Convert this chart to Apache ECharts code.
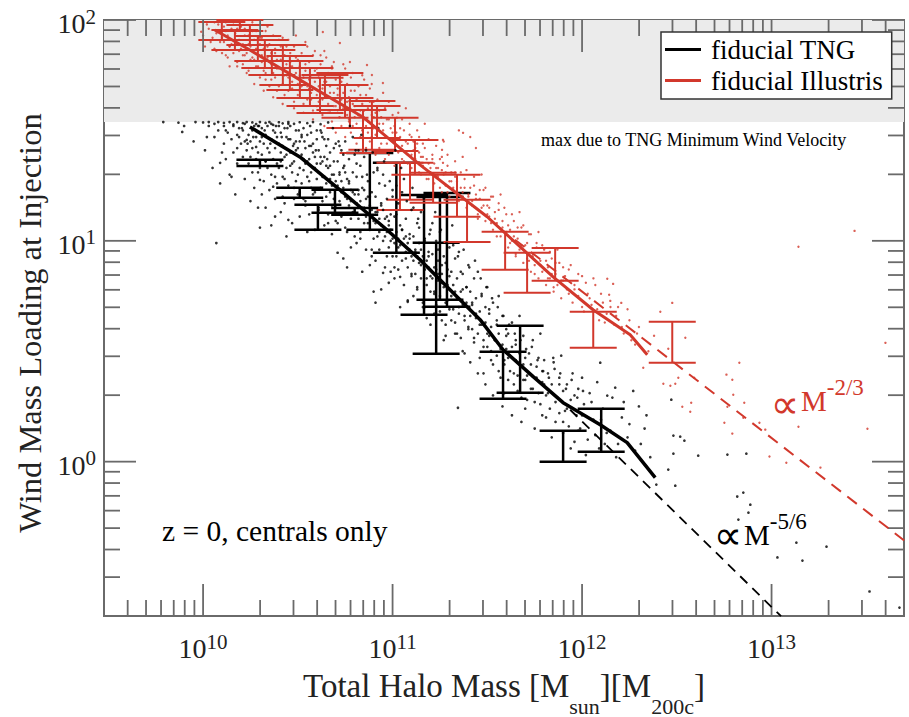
<!DOCTYPE html>
<html>
<head>
<meta charset="utf-8">
<script src="https://cdn.jsdelivr.net/npm/echarts@6/dist/echarts.min.js"></script>
<style>html,body{margin:0;padding:0;background:#fff;overflow:hidden;}#c{width:909px;height:717px;}</style>
</head>
<body>
<div id="c"></div>
<script>
const tngMedianLog = [[10.247,1.516],[10.511,1.380],[10.722,1.231],[10.970,1.050],[11.145,0.914],[11.319,0.765],[11.462,0.643],[11.583,0.507],[11.742,0.385],[11.900,0.267],[12.096,0.167],[12.238,0.086],[12.386,-0.072]];
const tngSlopeLog = [[11.937,0.235],[13.05,-0.70]];
const illMedianLog = [[10.062,1.955],[10.247,1.864],[10.511,1.729],[10.843,1.561],[11.145,1.344],[11.499,1.109],[11.847,0.837],[12.058,0.688],[12.254,0.575],[12.344,0.484]];
const illSlopeLog = [[11.646,1.005],[13.70,-0.357]];
const windCap = 34.5; // eta maximum due to TNG minimum wind velocity

// error bars: [log10 M, log10 eta low, log10 eta high]
const tngErrLog = [[10.30,1.339,1.367],[10.51,1.195,1.240],[10.606,1.050,1.163],[10.696,1.127,1.231],[10.80,1.118,1.149],[10.88,1.050,1.398],[11.02,0.946,1.353],[11.166,0.665,1.208],[11.23,0.489,0.991],[11.25,0.733,1.199],[11.287,0.701,1.217],[11.583,0.285,0.498],[11.673,0.312,0.615],[11.90,0.000,0.140],[12.101,0.045,0.240]];
const illErrLog = [[10.099,1.9095,1.991],[10.194,1.950,2.000],[10.168,1.864,1.955],[10.247,1.887,1.977],[10.289,1.814,1.928],[10.326,1.783,1.9095],[10.363,1.751,1.864],[10.421,1.706,1.887],[10.458,1.683,1.837],[10.511,1.647,1.814],[10.564,1.611,1.783],[10.617,1.579,1.738],[10.643,1.647,1.751],[10.722,1.593,1.760],[10.749,1.557,1.706],[10.775,1.511,1.647],[10.844,1.398,1.593],[10.891,1.412,1.633],[10.918,1.466,1.611],[11.013,1.407,1.557],[11.039,1.140,1.353],[11.092,1.1855,1.353],[11.118,1.299,1.457],[11.214,1.172,1.308],[11.340,1.109,1.299],[11.393,0.995,1.1855],[11.594,0.869,1.041],[11.710,0.765,0.946],[11.858,0.819,0.968],[12.059,0.516,0.679],[12.476,0.448,0.633]];

// individual halos (TNG)
const tngHalosLog = [
[9.79,1.538],[9.87,1.535],[9.90,1.52],[9.96,1.538],[10.00,1.536],[10.03,1.538],[10.06,1.530],[10.08,1.538],[10.11,1.534],[10.14,1.538],[10.16,1.527],[10.18,1.538],[10.21,1.533],[10.23,1.538],[10.26,1.536],[10.28,1.529],[10.30,1.538],[10.33,1.534],[10.35,1.538],[10.37,1.525],[10.40,1.537],[10.42,1.532],[10.45,1.538],[10.48,1.530],[10.51,1.537],[10.55,1.533],[10.58,1.538],[10.62,1.528],[10.66,1.536],
[9.89,1.493],[9.95,1.45],[10.02,1.47],[10.07,0.99],[10.09,1.353],[10.10,1.40],[10.12,1.50],[10.15,1.29],[10.16,1.40],[10.18,1.48],[10.22,1.45],[10.23,1.457],[10.25,1.38],[10.26,1.50],[10.28,1.425],[10.29,1.31],[10.29,1.15],[10.30,1.06],[10.30,1.276],[10.31,1.47],[10.33,1.36],[10.34,1.42],[10.36,1.07],[10.37,1.245],[10.38,1.19],[10.38,1.49],[10.40,1.33],[10.41,1.40],[10.42,1.20],[10.43,1.28],[10.44,1.02],[10.45,1.095],[10.46,1.46],[10.47,1.35],[10.48,1.24],[10.49,1.41],[10.50,1.30],[10.51,1.11],[10.52,1.48],[10.53,1.37],[10.54,1.18],[10.55,1.04],[10.56,1.27],[10.57,1.43],[10.58,1.33],[10.59,1.22],[10.60,1.50],[10.61,1.14],[10.62,1.38],[10.63,1.29],[10.64,1.46],[10.65,1.20],[10.66,1.08],[10.67,1.34],[10.68,1.25],[10.69,1.42],[10.70,1.16],[10.71,0.946],[10.72,1.31],[10.73,1.22],[10.74,1.39],[10.75,1.06],[10.76,0.88],[10.77,1.27],[10.78,1.18],[10.79,1.47],[10.80,1.12],[10.81,1.35],[10.82,1.23],[10.83,1.01],[10.84,1.29],[10.85,1.15],[10.86,1.41],[10.87,1.08],[10.88,1.20],[10.89,0.96],[10.90,0.77],[10.91,0.72],[10.91,1.13],[10.92,1.32],[10.93,1.04],[10.94,1.17],[10.95,0.855],[10.96,1.25],[10.97,0.93],[10.98,1.09],[10.99,1.00],[11.00,1.20],[11.01,0.88],[11.02,1.12],[11.03,0.97],[11.04,0.837],[11.05,1.05],[11.06,1.28],[11.07,0.92],[11.08,0.724],[11.09,1.01],[11.10,0.84],[11.11,1.15],[11.12,0.95],[11.13,0.78],[11.14,1.06],[11.15,0.89],[11.16,0.70],[11.17,1.00],[11.18,0.83],[11.19,0.93],[11.20,0.62],[11.21,1.08],[11.22,0.76],[11.23,0.87],[11.24,0.96],[11.25,0.68],[11.26,0.81],[11.27,0.55],[11.28,0.90],[11.29,0.73],[11.30,0.84],[11.31,0.64],[11.32,0.98],[11.33,0.77],[11.34,0.58],[11.345,0.244],[11.35,0.70],[11.36,0.86],[11.37,0.50],[11.38,0.66],[11.39,0.79],[11.40,0.60],[11.41,0.45],[11.42,0.72],[11.43,0.56],[11.44,0.67],[11.45,0.40],[11.46,0.62],[11.47,0.75],[11.48,0.52],[11.49,0.35],[11.50,0.58],[11.51,0.69],[11.52,0.46],[11.53,0.30],[11.54,0.55],[11.55,0.62],[11.56,0.41],[11.57,0.51],[11.58,0.25],[11.59,0.44],[11.60,0.57],[11.61,0.37],[11.62,0.48],[11.63,0.21],[11.64,0.40],[11.65,0.53],[11.66,0.32],[11.67,0.44],[11.68,0.18],[11.69,0.37],[11.70,0.47],[11.71,0.28],[11.72,0.40],[11.74,0.33],[11.75,0.15],[11.76,0.43],[11.78,0.26],[11.79,0.36],[11.81,0.20],[11.82,0.31],[11.84,0.11],[11.848,0.47],[11.86,0.27],[11.88,0.35],[11.90,0.18],[11.92,0.24],[11.94,0.06],[11.96,0.30],[11.98,0.14],[12.00,0.21],[12.02,0.03],[12.05,0.27],[12.07,0.12],[12.096,0.448],[12.10,0.19],[12.12,0.08],[12.133,0.299],[12.15,0.14],[12.175,0.335],[12.18,0.02],[12.21,0.20],[12.24,0.11],[12.28,0.05],[12.30,0.25],[12.33,0.15],[12.36,0.02],[12.392,-0.104],[12.455,-0.036],[12.471,0.2805],[12.482,0.118],[12.482,0.036],[12.492,-0.109],[12.518,0.113],[12.54,0.095],[12.613,0.027],[12.767,0.032],[12.819,-0.158],[12.825,-0.2625],[12.851,-0.140],[12.867,0.036],[12.878,-0.231],[12.888,-0.195],[13.031,-0.434],[13.131,-0.367],[13.163,-0.448],[13.29,-0.385],[13.517,-0.588],[13.675,-0.661],
[10.205,1.51],[10.235,1.44],[10.265,1.47],[10.295,1.52],[10.325,1.50],[10.355,1.44],[10.385,1.52],[10.415,1.47],[10.445,1.51],[10.475,1.43],[10.505,1.50],[10.535,1.45],[10.565,1.52],[10.595,1.41],[10.625,1.49],[10.655,1.37],[10.685,1.51],[10.715,1.45],[10.745,1.34],[10.775,1.52],[10.805,1.41],[10.835,1.48],[10.865,1.30],[10.895,1.40],[10.925,1.51],[10.955,1.36],[10.985,1.27],[11.015,1.41],[11.045,1.33],[11.075,1.18],[11.105,1.24],[11.135,1.10],[11.165,1.19],[11.195,1.03],[11.225,1.13],[11.255,1.05],[11.285,0.99],[11.315,1.07],[11.345,0.93],[11.375,0.96],[11.405,0.88],[11.435,0.91],[11.465,0.83],[11.495,0.79],[11.525,0.74],[11.555,0.70],[11.585,0.66],[11.615,0.62],[11.645,0.58],[11.675,0.55],[11.705,0.51],[11.735,0.52],[11.765,0.46],[11.795,0.41],[11.825,0.38],[11.855,0.42],[11.885,0.40],[11.915,0.33],[11.945,0.37],[11.975,0.29],[12.005,0.32],
[10.01,1.41],[10.03,1.52],[10.05,1.33],[10.06,1.47],[10.08,1.50],[10.09,1.26],
[10.11,1.44],[10.11,1.52],[10.12,1.37],[10.13,1.49],[10.14,1.30],[10.15,1.46],[10.16,1.52],[10.17,1.21],[10.18,1.42],[10.18,1.35],[10.19,1.51],[10.19,1.47],
[10.20,1.44],[10.21,1.38],[10.21,1.50],[10.22,1.28],[10.22,1.53],[10.23,1.41],[10.24,1.35],[10.24,1.48],[10.25,1.18],[10.25,1.45],[10.26,1.31],[10.26,1.42],[10.27,1.52],[10.27,1.24],[10.28,1.37],[10.28,1.47],[10.29,1.40],[10.29,1.52],[10.30,1.33],[10.30,1.45],
[10.31,1.39],[10.31,1.51],[10.32,1.27],[10.32,1.44],[10.33,1.48],[10.33,1.15],[10.34,1.33],[10.34,1.52],[10.35,1.40],[10.35,1.23],[10.36,1.46],[10.36,1.30],[10.37,1.37],[10.37,1.50],[10.38,1.42],[10.38,1.11],[10.39,1.35],[10.39,1.47],[10.39,1.26],[10.40,1.44],[10.40,1.52],[10.31,1.21],[10.33,1.36],[10.36,1.53],[10.38,1.29],
[10.41,1.36],[10.41,1.49],[10.42,1.29],[10.42,1.43],[10.43,1.51],[10.43,1.17],[10.44,1.39],[10.44,1.33],[10.45,1.46],[10.45,1.25],[10.46,1.40],[10.46,1.52],[10.47,1.31],[10.47,1.08],[10.48,1.44],[10.48,1.36],[10.49,1.27],[10.49,1.50],[10.50,1.42],[10.50,1.21],[10.41,1.13],[10.43,1.38],[10.45,1.53],[10.46,1.34],[10.48,1.19],[10.49,1.45],[10.44,1.47],[10.47,1.40],
[10.51,1.33],[10.51,1.45],[10.52,1.26],[10.52,1.39],[10.53,1.51],[10.53,1.19],[10.54,1.35],[10.54,1.42],[10.55,1.29],[10.55,1.48],[10.56,1.12],[10.56,1.37],[10.57,1.31],[10.57,1.24],[10.58,1.44],[10.58,1.40],[10.59,1.33],[10.59,1.05],[10.60,1.28],[10.60,1.46],[10.51,1.22],[10.52,1.47],[10.54,1.16],[10.55,1.36],[10.57,1.49],[10.58,1.21],[10.59,1.38],[10.53,1.32],[10.56,1.43],[10.60,1.35],
[10.61,1.31],[10.61,1.41],[10.62,1.24],[10.62,1.35],[10.63,1.47],[10.63,1.18],[10.64,1.29],[10.64,1.38],[10.65,1.26],[10.65,1.43],[10.66,1.33],[10.66,1.12],[10.67,1.22],[10.67,1.40],[10.68,1.30],[10.68,1.03],[10.69,1.36],[10.69,1.19],[10.70,1.27],[10.70,1.44],[10.61,1.15],[10.62,1.50],[10.63,1.36],[10.64,1.07],[10.65,1.34],[10.66,1.46],[10.67,1.28],[10.68,1.16],[10.69,1.30],[10.70,1.09],
[10.71,1.25],[10.71,1.36],[10.72,1.18],[10.72,1.30],[10.73,1.41],[10.73,1.11],[10.74,1.24],[10.74,1.33],[10.75,1.20],[10.75,1.45],[10.76,1.28],[10.76,1.04],[10.77,1.16],[10.77,1.37],[10.78,1.23],[10.78,0.97],[10.79,1.31],[10.79,1.13],[10.80,1.21],[10.80,1.39],[10.71,1.08],[10.72,1.43],[10.73,1.27],[10.74,0.92],[10.75,1.31],[10.76,1.19],[10.77,1.26],[10.78,1.10],[10.79,1.22],[10.80,1.02],
[10.81,1.17],[10.81,1.29],[10.82,1.10],[10.82,1.21],[10.83,1.34],[10.83,1.04],[10.84,1.15],[10.84,1.24],[10.85,1.08],[10.85,1.38],[10.86,1.19],[10.86,0.96],[10.87,1.12],[10.87,1.27],[10.88,1.05],[10.88,0.89],[10.89,1.22],[10.89,1.14],[10.90,1.01],[10.90,1.31],[10.81,0.99],[10.82,1.41],[10.83,1.18],[10.84,0.86],[10.85,1.23],[10.86,1.11],[10.87,1.20],[10.88,1.16],[10.89,0.93],[10.90,1.09],
[10.91,1.08],[10.91,1.20],[10.92,1.02],[10.92,1.13],[10.93,1.26],[10.93,0.96],[10.94,1.07],[10.94,1.16],[10.95,1.00],[10.95,1.30],[10.96,1.10],[10.96,0.88],[10.97,1.04],[10.97,1.19],[10.98,0.97],[10.98,0.81],[10.99,1.12],[10.99,1.05],[11.00,0.93],[11.00,1.23],[10.91,0.91],[10.92,1.33],[10.93,1.10],[10.94,0.78],[10.95,1.14],[10.96,1.02],[10.97,1.11],[10.98,1.07],[10.99,0.86],[11.00,1.01],
[11.01,0.99],[11.01,1.11],[11.02,0.93],[11.02,1.04],[11.03,1.17],[11.03,0.87],[11.04,0.98],[11.04,1.07],[11.05,0.91],[11.05,1.22],[11.06,1.01],[11.06,0.80],[11.07,0.95],[11.07,1.10],[11.08,0.88],[11.08,0.73],[11.09,1.03],[11.09,0.96],[11.10,0.85],[11.10,1.14],[11.01,0.83],[11.02,1.25],[11.03,1.01],[11.04,0.70],[11.05,1.05],[11.07,1.02],[11.08,0.99],[11.10,0.93],
[11.11,0.91],[11.11,1.02],[11.12,0.85],[11.12,0.96],[11.13,1.08],[11.13,0.79],[11.14,0.90],[11.14,0.99],[11.15,0.83],[11.15,1.13],[11.16,0.93],[11.16,0.72],[11.17,0.87],[11.17,1.01],[11.18,0.80],[11.18,0.65],[11.19,0.95],[11.19,0.88],[11.20,0.77],[11.20,1.05],[11.11,0.75],[11.13,0.93],[11.15,0.96],[11.17,0.70],[11.18,0.91],[11.20,0.84],
[11.21,0.83],[11.21,0.94],[11.22,0.77],[11.22,0.88],[11.23,1.00],[11.23,0.71],[11.24,0.82],[11.24,0.91],[11.25,0.75],[11.25,1.04],[11.26,0.85],[11.26,0.64],[11.27,0.79],[11.27,0.93],[11.28,0.72],[11.28,0.57],[11.29,0.87],[11.29,0.80],[11.30,0.69],[11.30,0.97],[11.22,0.67],[11.24,0.85],[11.26,0.89],[11.28,0.62],
[11.31,0.75],[11.31,0.86],[11.32,0.69],[11.32,0.80],[11.33,0.92],[11.33,0.63],[11.34,0.74],[11.34,0.83],[11.35,0.67],[11.35,0.95],[11.36,0.77],[11.36,0.56],[11.37,0.71],[11.37,0.85],[11.38,0.64],[11.38,0.49],[11.39,0.79],[11.39,0.72],[11.40,0.61],[11.40,0.89],[11.33,0.58],[11.37,0.78],
[11.41,0.66],[11.41,0.77],[11.42,0.60],[11.42,0.71],[11.43,0.83],[11.43,0.54],[11.44,0.65],[11.44,0.74],[11.45,0.58],[11.45,0.86],[11.46,0.68],[11.46,0.47],[11.47,0.62],[11.47,0.76],[11.48,0.55],[11.48,0.40],[11.49,0.70],[11.49,0.63],[11.50,0.52],[11.50,0.79],
[11.51,0.57],[11.51,0.67],[11.52,0.50],[11.52,0.61],[11.53,0.72],[11.53,0.44],[11.54,0.55],[11.55,0.64],[11.55,0.48],[11.56,0.75],[11.56,0.58],[11.57,0.38],[11.58,0.53],[11.58,0.66],[11.59,0.46],[11.59,0.31],[11.60,0.60],[11.60,0.51],
[11.61,0.47],[11.61,0.58],[11.62,0.41],[11.63,0.52],[11.63,0.63],[11.64,0.35],[11.65,0.46],[11.65,0.55],[11.66,0.39],[11.67,0.66],[11.67,0.49],[11.68,0.29],[11.69,0.44],[11.69,0.57],[11.70,0.37],[11.70,0.24],
[11.71,0.39],[11.72,0.49],[11.73,0.33],[11.73,0.44],[11.74,0.55],[11.75,0.27],[11.76,0.38],[11.77,0.47],[11.77,0.31],[11.78,0.58],[11.79,0.41],[11.79,0.21],[11.80,0.35],[11.80,0.46],
[11.81,0.30],[11.82,0.40],[11.83,0.24],[11.84,0.35],[11.85,0.45],[11.86,0.18],[11.87,0.29],[11.88,0.38],[11.88,0.22],[11.89,0.48],[11.90,0.32],[11.90,0.13],
[11.91,0.23],[11.92,0.35],[11.93,0.16],[11.94,0.28],[11.95,0.40],[11.96,0.09],[11.97,0.21],[11.98,0.33],[11.99,0.15],[12.00,0.38],
[12.01,0.26],[12.03,0.10],[12.04,0.31],[12.06,0.19],[12.08,0.36],[12.09,0.06],[12.11,0.24],[12.13,0.13],[12.16,0.29],[12.19,0.08],
[12.22,0.27],[12.25,0.17],[12.27,0.32],[12.31,0.08],[12.34,0.21]
];
// individual halos (Illustris)
const illHalosLog = [
[9.99,1.947],[10.02,1.98],[10.04,1.90],[10.06,1.99],[10.07,1.86],[10.09,1.95],[10.10,1.92],[10.12,1.99],[10.13,1.83],[10.14,1.88],[10.15,1.96],[10.17,1.91],[10.18,1.79],[10.19,1.86],[10.20,1.97],[10.21,1.84],[10.22,1.93],[10.23,1.76],[10.24,1.89],[10.25,1.82],[10.26,1.95],[10.27,1.71],[10.28,1.87],[10.29,1.79],[10.30,1.92],[10.31,1.84],[10.32,1.68],[10.33,1.76],[10.34,1.88],[10.35,1.81],[10.36,1.73],[10.37,1.65],[10.38,1.85],[10.39,1.78],[10.40,1.70],[10.41,1.82],[10.42,1.62],[10.43,1.75],[10.44,1.88],[10.45,1.68],[10.46,1.79],[10.47,1.72],[10.48,1.60],[10.49,1.83],[10.50,1.66],[10.51,1.75],[10.52,1.70],[10.53,1.58],[10.54,1.80],[10.55,1.64],[10.56,1.73],[10.57,1.67],[10.58,1.55],[10.59,1.77],[10.60,1.61],[10.61,1.70],[10.62,1.84],[10.63,1.64],[10.64,1.52],[10.65,1.72],[10.66,1.58],[10.67,1.67],[10.68,1.78],[10.69,1.61],[10.70,1.49],[10.71,1.66],[10.72,1.56],[10.73,1.72],[10.74,1.60],[10.75,1.47],[10.76,1.63],[10.77,1.55],[10.78,1.68],[10.79,1.52],[10.80,1.61],[10.81,1.44],[10.82,1.57],[10.83,1.66],[10.84,1.50],[10.85,1.59],[10.86,1.42],[10.87,1.54],[10.88,1.63],[10.89,1.47],[10.90,1.56],[10.91,1.39],[10.92,1.51],[10.93,1.59],[10.94,1.44],[10.95,1.53],[10.96,1.37],[10.97,1.47],[10.98,1.55],[10.99,1.41],[11.00,1.49],[11.01,1.34],
[11.02,1.46],[11.03,1.40],[11.04,1.51],[11.05,1.43],[11.06,1.36],[11.07,1.45],[11.08,1.39],[11.09,1.48],[11.10,1.33],[11.11,1.41],[11.12,1.37],[11.13,1.44],[11.14,1.31],[11.15,1.38],[11.16,1.34],[11.17,1.42],[11.18,1.28],[11.19,1.35],[11.20,1.31],[11.21,1.39],[11.22,1.26],[11.23,1.33],[11.24,1.29],[11.25,1.37],[11.26,1.22],[11.27,1.30],[11.28,1.25],[11.29,1.34],[11.30,1.20],[11.31,1.27],[11.32,1.23],[11.33,1.31],[11.34,1.17],[11.35,1.50],[11.36,1.24],[11.37,1.20],[11.38,1.28],[11.39,1.15],[11.40,1.21],[11.41,1.47],[11.42,1.18],[11.43,1.25],[11.44,1.42],[11.45,1.12],[11.46,1.19],[11.47,1.15],[11.48,1.23],[11.49,1.09],[11.50,1.16],[11.51,1.11],[11.52,1.20],[11.53,1.05],[11.54,1.13],[11.55,1.08],[11.56,1.17],[11.57,1.02],[11.58,1.09],[11.59,1.04],[11.60,1.12],[11.61,0.97],[11.62,1.05],[11.63,1.00],[11.64,1.09],[11.65,0.93],[11.66,1.01],[11.67,0.96],[11.68,1.06],[11.69,0.90],[11.70,0.98],[11.71,0.92],[11.72,1.03],[11.73,0.86],[11.74,0.94],[11.75,0.89],[11.76,0.99],[11.77,0.83],[11.78,0.91],[11.79,0.86],[11.80,0.96],[11.81,0.80],[11.82,0.88],[11.83,0.83],[11.84,0.92],[11.85,0.77],[11.86,0.85],[11.87,0.80],[11.88,0.90],[11.89,0.74],[11.90,0.82],[11.92,0.78],[11.93,0.87],[11.95,0.72],[11.96,0.80],[11.98,0.75],[12.00,0.84],[12.01,0.68],[12.03,0.76],[12.05,0.71],[12.07,0.80],[12.09,0.64],[12.11,0.72],[12.13,0.67],[12.133,0.828],[12.143,0.756],[12.149,0.728],[12.164,0.805],[12.17,0.62],[12.19,0.70],[12.207,0.719],[12.22,0.58],[12.25,0.64],[12.28,0.53],[12.30,0.61],[12.323,0.425],[12.35,0.50],[12.38,0.57],[12.413,0.679],[12.429,0.353],[12.455,0.511],[12.466,0.344],[12.476,0.719],[12.492,0.353],[12.508,0.380],[12.529,0.249],[12.545,0.561],[12.571,0.226],[12.576,0.267],[12.592,0.380],[12.751,0.176],[12.762,0.394],[12.767,0.249],[12.793,0.371],[12.793,0.127],[12.798,0.303],[12.83,0.448],[12.851,0.199],[12.856,0.267],[12.936,0.176],[12.967,0.145],[12.989,0.023],[13.078,-0.005],[13.142,0.158],[13.142,0.973],[13.258,-0.027],[13.438,1.045],[13.506,0.149],[13.601,0.538],
[11.372,1.489],[11.266,1.457],[11.261,1.412],[11.266,1.353],[11.023,1.557],[10.949,1.715],[10.891,1.751],[10.775,1.810],[10.722,1.896],[10.632,1.946],[10.865,1.796],
[10.00,1.93],[10.01,1.88],[10.03,1.96],[10.05,1.92],[10.06,1.87],[10.08,1.98],[10.09,1.90],[10.10,1.85],[10.02,1.99],[10.07,1.94],
[10.11,1.90],[10.11,1.97],[10.12,1.84],[10.13,1.93],[10.14,1.79],[10.15,1.89],[10.16,1.99],[10.16,1.85],[10.17,1.94],[10.18,1.81],[10.19,1.91],[10.20,1.87],[10.12,1.95],[10.14,1.88],[10.18,1.96],
[10.21,1.89],[10.21,1.80],[10.22,1.96],[10.23,1.85],[10.24,1.93],[10.24,1.77],[10.25,1.88],[10.26,1.83],[10.26,1.99],[10.27,1.91],[10.28,1.79],[10.28,1.95],[10.29,1.86],[10.30,1.74],[10.30,1.89],[10.22,1.84],[10.25,1.95],[10.27,1.82],[10.29,1.92],
[10.31,1.81],[10.31,1.92],[10.32,1.87],[10.33,1.73],[10.33,1.95],[10.34,1.83],[10.35,1.89],[10.35,1.70],[10.36,1.80],[10.37,1.93],[10.37,1.76],[10.38,1.87],[10.39,1.82],[10.39,1.68],[10.40,1.91],[10.40,1.78],[10.32,1.77],[10.34,1.97],[10.36,1.85],[10.38,1.74],
[10.41,1.78],[10.41,1.88],[10.42,1.71],[10.43,1.84],[10.43,1.66],[10.44,1.80],[10.45,1.91],[10.45,1.74],[10.46,1.85],[10.47,1.69],[10.47,1.79],[10.48,1.88],[10.48,1.63],[10.49,1.76],[10.50,1.82],[10.50,1.71],[10.42,1.92],[10.44,1.75],[10.46,1.81],[10.49,1.93],
[10.51,1.79],[10.51,1.68],[10.52,1.85],[10.53,1.74],[10.53,1.62],[10.54,1.77],[10.55,1.88],[10.55,1.70],[10.56,1.81],[10.57,1.64],[10.57,1.75],[10.58,1.84],[10.58,1.59],[10.59,1.72],[10.60,1.78],[10.60,1.66],[10.52,1.72],[10.54,1.90],[10.56,1.69],[10.59,1.86],
[10.61,1.74],[10.61,1.63],[10.62,1.80],[10.63,1.69],[10.63,1.57],[10.64,1.72],[10.65,1.83],[10.65,1.65],[10.66,1.76],[10.67,1.59],[10.67,1.70],[10.68,1.79],[10.68,1.54],[10.69,1.67],[10.70,1.73],[10.70,1.61],[10.62,1.67],[10.64,1.86],[10.66,1.62],[10.69,1.81],
[10.71,1.69],[10.71,1.58],[10.72,1.75],[10.73,1.64],[10.73,1.52],[10.74,1.67],[10.75,1.78],[10.75,1.60],[10.76,1.71],[10.77,1.54],[10.77,1.65],[10.78,1.74],[10.78,1.49],[10.79,1.62],[10.80,1.68],[10.80,1.56],[10.72,1.62],[10.74,1.80],[10.76,1.57],[10.79,1.76],
[10.81,1.64],[10.81,1.53],[10.82,1.70],[10.83,1.59],[10.83,1.47],[10.84,1.62],[10.85,1.73],[10.85,1.55],[10.86,1.66],[10.87,1.49],[10.87,1.60],[10.88,1.69],[10.88,1.45],[10.89,1.57],[10.90,1.63],[10.90,1.51],[10.82,1.57],[10.84,1.75],[10.86,1.52],[10.89,1.71],
[10.91,1.58],[10.91,1.48],[10.92,1.64],[10.93,1.53],[10.93,1.42],[10.94,1.56],[10.95,1.67],[10.95,1.50],[10.96,1.60],[10.97,1.44],[10.97,1.55],[10.98,1.63],[10.98,1.39],[10.99,1.51],[11.00,1.57],[11.00,1.46],
[11.01,1.52],[11.02,1.43],[11.03,1.58],[11.04,1.47],[11.05,1.37],[11.06,1.50],[11.07,1.60],[11.08,1.44],[11.09,1.53],[11.10,1.39],[11.02,1.49],[11.05,1.55],[11.08,1.35],[11.10,1.47],
[11.11,1.45],[11.12,1.36],[11.13,1.50],[11.14,1.40],[11.15,1.30],[11.16,1.44],[11.17,1.53],[11.18,1.37],[11.19,1.46],[11.20,1.33],[11.12,1.42],[11.16,1.38],[11.19,1.28],[11.14,1.47],
[11.21,1.37],[11.22,1.30],[11.23,1.43],[11.24,1.33],[11.25,1.24],[11.26,1.38],[11.27,1.45],[11.28,1.31],[11.29,1.39],[11.30,1.27],[11.22,1.35],[11.26,1.32],[11.29,1.22],
[11.31,1.31],[11.32,1.24],[11.33,1.36],[11.34,1.27],[11.35,1.18],[11.36,1.31],[11.37,1.38],[11.38,1.24],[11.39,1.32],[11.40,1.20],[11.33,1.29],[11.37,1.22],
[11.41,1.24],[11.42,1.16],[11.43,1.29],[11.44,1.19],[11.45,1.10],[11.46,1.23],[11.47,1.30],[11.48,1.16],[11.49,1.24],[11.50,1.12],[11.44,1.21],
[11.51,1.15],[11.52,1.08],[11.53,1.20],[11.54,1.10],[11.55,1.02],[11.56,1.14],[11.57,1.21],[11.58,1.06],[11.59,1.15],[11.60,1.04],
[11.61,1.07],[11.62,0.99],[11.63,1.12],[11.64,1.02],[11.65,0.94],[11.66,1.06],[11.67,1.13],[11.68,0.98],[11.69,1.07],[11.70,0.95],
[11.71,0.99],[11.72,0.91],[11.73,1.03],[11.74,0.93],[11.75,0.85],[11.76,0.97],[11.77,1.04],[11.78,0.89],[11.79,0.98],[11.80,0.87],
[11.81,0.91],[11.82,0.83],[11.83,0.95],[11.84,0.85],[11.85,0.79],[11.86,0.90],[11.87,0.96],[11.89,0.82],[11.90,0.88],
[11.91,0.84],[11.93,0.76],[11.94,0.89],[11.96,0.78],[11.98,0.85],[12.00,0.70],[12.02,0.81],[12.04,0.74],[12.06,0.83],[12.08,0.69],[12.10,0.76],
[12.12,0.63],[12.15,0.70],[12.18,0.66],[12.21,0.61],[12.24,0.69],[12.26,0.55],[12.29,0.58]
];

// axis ticks
const xMajorTicks = [1e10, 1e11, 1e12, 1e13];
const xMinorTicks = [4e9,5e9,6e9,7e9,8e9,9e9,2e10,3e10,4e10,5e10,6e10,7e10,8e10,9e10,2e11,3e11,4e11,5e11,6e11,7e11,8e11,9e11,2e12,3e12,4e12,5e12,6e12,7e12,8e12,9e12,2e13,3e13,4e13];
const yMajorTicks = [1, 10, 100];
const yMinorTicks = [0.3,0.4,0.5,0.6,0.7,0.8,0.9,2,3,4,5,6,7,8,9,20,30,40,50,60,70,80,90];
const xRange = [3e9, 5e13];
const yRange = [0.2, 100];

const RED = '#d2382c';
const BLACK = '#000000';
const AXIS = '#6a6a6a';
const FONT = "'Liberation Serif', 'DejaVu Serif', serif";
const SYMFONT = "'DejaVu Sans', 'DejaVu Serif', sans-serif";

const unlog = p => [Math.pow(10, p[0]), Math.pow(10, p[1])];
const unlogErr = p => [Math.pow(10, p[0]), Math.pow(10, p[1]), Math.pow(10, p[2])];

function powLabel(v) {
  const e = Math.log10(v), r = Math.round(e);
  if (Math.abs(e - r) > 1e-6) return '';
  return '{b|10}{s|' + r + '}';
}
const labelRich = {
  b: {fontSize: 28, lineHeight: 28, padding: [7, 0, 0, 0], fontFamily: FONT, color: '#222'},
  s: {fontSize: 21, lineHeight: 21, verticalAlign: 'top', fontFamily: FONT, color: '#222'}
};
function powerRich(color) {
  return {
    a: {fontSize: 29, lineHeight: 39, padding: [10, 0, 0, 0], fontFamily: FONT, fill: color, verticalAlign: 'top'},
    s: {fontSize: 23, lineHeight: 23, verticalAlign: 'top', fontFamily: FONT, fill: color}
  };
}

function errRender(color, width) {
  return function (params, api) {
    const x = api.value(0), lo = api.value(1), hi = api.value(2);
    const a = api.coord([x, hi]), b = api.coord([x, lo]);
    const h = 23.5;
    const st = {stroke: color, lineWidth: width};
    return {type: 'group', children: [
      {type: 'line', shape: {x1: a[0], y1: a[1], x2: b[0], y2: b[1]}, style: st},
      {type: 'line', shape: {x1: a[0] - h, y1: a[1], x2: a[0] + h, y2: a[1]}, style: st},
      {type: 'line', shape: {x1: b[0] - h, y1: b[1], x2: b[0] + h, y2: b[1]}, style: st}
    ]};
  };
}
function xTickRender(len) {
  return function (params, api) {
    const cs = params.coordSys;
    const x = api.coord([api.value(0), 1])[0];
    const st = {stroke: AXIS, lineWidth: 1.8};
    const yb = cs.y + cs.height, yt = cs.y;
    return {type: 'group', children: [
      {type: 'line', shape: {x1: x, y1: yb, x2: x, y2: yb - len}, style: st},
      {type: 'line', shape: {x1: x, y1: yt, x2: x, y2: yt + len}, style: st}
    ]};
  };
}
function yTickRender(len) {
  return function (params, api) {
    const cs = params.coordSys;
    const y = api.coord([1e11, api.value(1)])[1];
    const st = {stroke: AXIS, lineWidth: 1.8};
    const xl = cs.x, xr = cs.x + cs.width;
    return {type: 'group', children: [
      {type: 'line', shape: {x1: xl, y1: y, x2: xl + len, y2: y}, style: st},
      {type: 'line', shape: {x1: xr, y1: y, x2: xr - len, y2: y}, style: st}
    ]};
  };
}

const chart = echarts.init(document.getElementById('c'), null, {renderer: 'svg'});
chart.setOption({
  animation: false,
  backgroundColor: '#fff',
  grid: {left: 104, top: 20, right: 5, bottom: 101, show: true, borderColor: AXIS, borderWidth: 2, backgroundColor: 'transparent', containLabel: false, outerBoundsMode: 'none'},
  legend: {
    left: 661, top: 32, orient: 'vertical', itemWidth: 36, itemHeight: 3, itemGap: 4,
    padding: [4, 9, 5, 4], backgroundColor: '#fff', borderColor: '#333', borderWidth: 1.5,
    textStyle: {fontSize: 27, fontFamily: FONT, color: '#000', padding: [0, 0, 0, 5]},
    data: [{name: 'fiducial TNG', icon: 'rect'}, {name: 'fiducial Illustris', icon: 'rect'}]
  },
  xAxis: {
    type: 'log', min: xRange[0], max: xRange[1], logBase: 10,
    axisLine: {show: false}, axisTick: {show: false}, splitLine: {show: false}, minorTick: {show: false},
    axisLabel: {formatter: powLabel, rich: labelRich, margin: 15, showMinLabel: true, showMaxLabel: true},
    name: '{t|Total Halo Mass [M}{u|sun}{t|][M}{u|200c}{t|]}', nameLocation: 'middle', nameGap: 53,
    nameTextStyle: {rich: {
      t: {fontSize: 33, lineHeight: 48, padding: [0, 0, 15, 0], fontFamily: FONT, color: '#222', verticalAlign: 'top'},
      u: {fontSize: 22, lineHeight: 22, fontFamily: FONT, color: '#222', verticalAlign: 'bottom'}
    }}
  },
  yAxis: {
    type: 'log', min: yRange[0], max: yRange[1], logBase: 10,
    axisLine: {show: false}, axisTick: {show: false}, splitLine: {show: false}, minorTick: {show: false},
    axisLabel: {formatter: powLabel, rich: labelRich, margin: 8},
    name: 'Wind Mass Loading at Injection', nameLocation: 'middle', nameGap: 54, nameRotate: 90,
    nameTextStyle: {fontSize: 32.5, fontFamily: FONT, color: '#222', padding: [0, 10, 0, 0]}
  },
  graphic: [
    {type: 'text', left: 541, top: 131, style: {text: 'max due to TNG Minimum Wind Velocity', fontSize: 18, fontFamily: FONT, fill: '#000'}},
    {type: 'text', left: 162, top: 516, style: {text: 'z = 0, centrals only', fontSize: 29.5, fontFamily: FONT, fill: '#000'}},
    {type: 'text', left: 770, top: 383, style: {text: '∝', fontSize: 40, fontFamily: SYMFONT, fill: RED, stroke: '#fff', lineWidth: 1.6}},
    {type: 'text', left: 801, top: 376, style: {text: '{a|M}{s|-2/3}', rich: powerRich(RED)}},
    {type: 'text', left: 713, top: 514, style: {text: '∝', fontSize: 40, fontFamily: SYMFONT, fill: BLACK, stroke: '#fff', lineWidth: 1.6}},
    {type: 'text', left: 744, top: 510, style: {text: '{a|M}{s|-5/6}', rich: powerRich(BLACK)}}
  ],
  series: [
    {type: 'scatter', name: 'shade', data: [], z: 0, silent: true,
     markArea: {silent: true, itemStyle: {color: '#ebebeb'}, data: [[{coord: [xRange[0], windCap]}, {coord: [xRange[1], yRange[1]]}]]}},
    {type: 'custom', name: 'xMajor', renderItem: xTickRender(32), data: xMajorTicks.map(v => [v, 1]), z: 3, silent: true},
    {type: 'custom', name: 'xMinor', renderItem: xTickRender(16), data: xMinorTicks.map(v => [v, 1]), z: 3, silent: true},
    {type: 'custom', name: 'yMajor', renderItem: yTickRender(32), data: yMajorTicks.map(v => [1e11, v]), z: 3, silent: true},
    {type: 'custom', name: 'yMinor', renderItem: yTickRender(16), data: yMinorTicks.map(v => [1e11, v]), z: 3, silent: true},
    {type: 'scatter', name: 'TNG halos', data: tngHalosLog.map(unlog), symbolSize: 2.7, itemStyle: {color: BLACK}, z: 2, silent: true},
    {type: 'custom', name: 'TNG spread', renderItem: errRender(BLACK, 2.5), data: tngErrLog.map(unlogErr), encode: {x: 0, y: [1, 2]}, z: 2, silent: true},
    {type: 'scatter', name: 'Illustris halos', data: illHalosLog.map(unlog), symbolSize: 2.4, itemStyle: {color: RED}, z: 2, silent: true},
    {type: 'custom', name: 'Illustris spread', renderItem: errRender(RED, 2), data: illErrLog.map(unlogErr), encode: {x: 0, y: [1, 2]}, z: 2, silent: true},
    {type: 'line', name: 'fiducial TNG', data: tngMedianLog.map(unlog), showSymbol: false, lineStyle: {color: BLACK, width: 3.5}, itemStyle: {color: BLACK}, z: 4},
    {type: 'line', name: 'TNG slope', data: tngSlopeLog.map(unlog), showSymbol: false, lineStyle: {color: BLACK, width: 1.8, type: [10, 7]}, z: 4},
    {type: 'line', name: 'fiducial Illustris', data: illMedianLog.map(unlog), showSymbol: false, lineStyle: {color: RED, width: 3}, itemStyle: {color: RED}, z: 4},
    {type: 'line', name: 'Illustris slope', data: illSlopeLog.map(unlog), showSymbol: false, lineStyle: {color: RED, width: 2, type: [12, 8]}, z: 4}
  ]
});
</script>
</body>
</html>
